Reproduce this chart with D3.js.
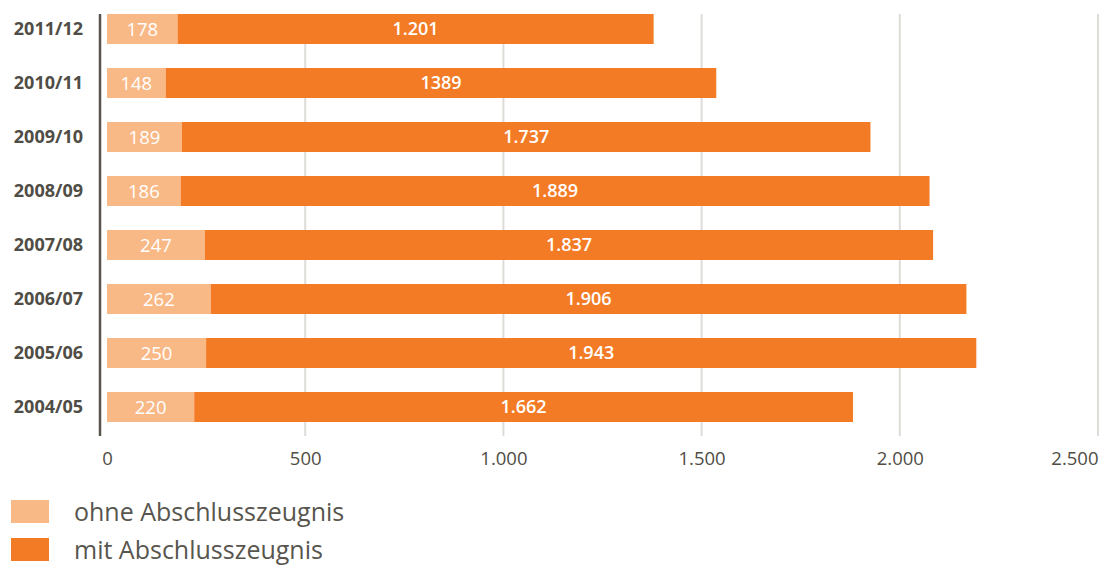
<!DOCTYPE html>
<html><head><meta charset="utf-8">
<script src="https://cdn.jsdelivr.net/npm/d3@7"></script>
<style>body{margin:0;background:#fff}svg{display:block}</style>
</head><body>
<svg id="c" width="1101" height="565"></svg>
<script>
const categories = ["2011/12","2010/11","2009/10","2008/09","2007/08","2006/07","2005/06","2004/05"];
const ohne = [178,148,189,186,247,262,250,220];
const mit = [1201,1389,1737,1889,1837,1906,1943,1662];
const mitLabels = ["1.201","1389","1.737","1.889","1.837","1.906","1.943","1.662"];
const ticks = [0,500,1000,1500,2000,2500];
const seriesNames = ["ohne Abschlusszeugnis","mit Abschlusszeugnis"];
const colors = ["#f9b986","#f47b25"];

const de = d3.formatLocale({decimal:",",thousands:".",grouping:[3],currency:["","€"]});
const fmt = de.format(",d");

const svg = d3.select("#c");
const x = d3.scaleLinear().domain([0,2500]).range([107,1098]);
const yb = d3.scaleBand().domain(categories).range([14,422]).paddingInner(24/54).paddingOuter(0);

const font = "'Open Sans', sans-serif";
// grid
svg.append("g").selectAll("line").data(ticks.slice(1)).join("line")
  .attr("x1",d=>x(d)).attr("x2",d=>x(d)).attr("y1",14).attr("y2",436)
  .attr("stroke","#dcdcd8").attr("stroke-width",2);

// axis tick labels
const ax = svg.append("g").attr("transform","translate(0,436)")
  .call(d3.axisBottom(x).tickValues(ticks).tickFormat(fmt).tickSize(0).tickPadding(16));
ax.select(".domain").remove();
ax.selectAll("text").attr("font-family",font).attr("font-size",18.5).attr("fill","#4f4d45")
  .attr("text-anchor",(d,i,n)=>i===n.length-1?"end":"middle");

// left axis line
svg.append("line").attr("x1",100).attr("x2",100).attr("y1",14).attr("y2",436)
  .attr("stroke","#57554d").attr("stroke-width",2.5);

const rows = svg.append("g").selectAll("g").data(categories).join("g")
  .attr("transform",(d)=>`translate(0,${yb(d)})`);
const h = yb.bandwidth();
rows.append("rect").attr("x",x(0)).attr("y",0).attr("height",h)
  .attr("width",(d,i)=>x(ohne[i])-x(0)).attr("fill",colors[0]);
rows.append("rect").attr("x",(d,i)=>x(ohne[i])).attr("y",0).attr("height",h)
  .attr("width",(d,i)=>x(ohne[i]+mit[i])-x(ohne[i])).attr("fill",colors[1]);
rows.append("text").attr("x",(d,i)=>(x(0)+x(ohne[i]))/2).attr("y",h/2).attr("dy","0.36em")
  .attr("text-anchor","middle").attr("font-family",font).attr("font-size",18.5).attr("font-weight",500)
  .attr("fill","#fff").text((d,i)=>fmt(ohne[i]));
rows.append("text").attr("x",(d,i)=>(x(ohne[i])+x(ohne[i]+mit[i]))/2).attr("y",h/2).attr("dy","0.36em")
  .attr("text-anchor","middle").attr("font-family",font).attr("font-size",18).attr("font-weight",600)
  .attr("fill","#fff").text((d,i)=>mitLabels[i]);
rows.append("text").attr("x",83).attr("y",h/2).attr("dy","0.36em")
  .attr("text-anchor","end").attr("font-family",font).attr("font-size",18).attr("font-weight",700)
  .attr("fill","#4f4d45").text(d=>d);

// legend
const lg = svg.append("g").selectAll("g").data(seriesNames).join("g")
  .attr("transform",(d,i)=>`translate(0,${500+i*38})`);
lg.append("rect").attr("x",11).attr("y",0).attr("width",38).attr("height",23).attr("fill",(d,i)=>colors[i]);
lg.append("text").attr("x",74).attr("y",12).attr("dy","0.36em").attr("font-family",font)
  .attr("font-size",25).attr("fill","#57554d").text(d=>d);
</script>
</body></html>
